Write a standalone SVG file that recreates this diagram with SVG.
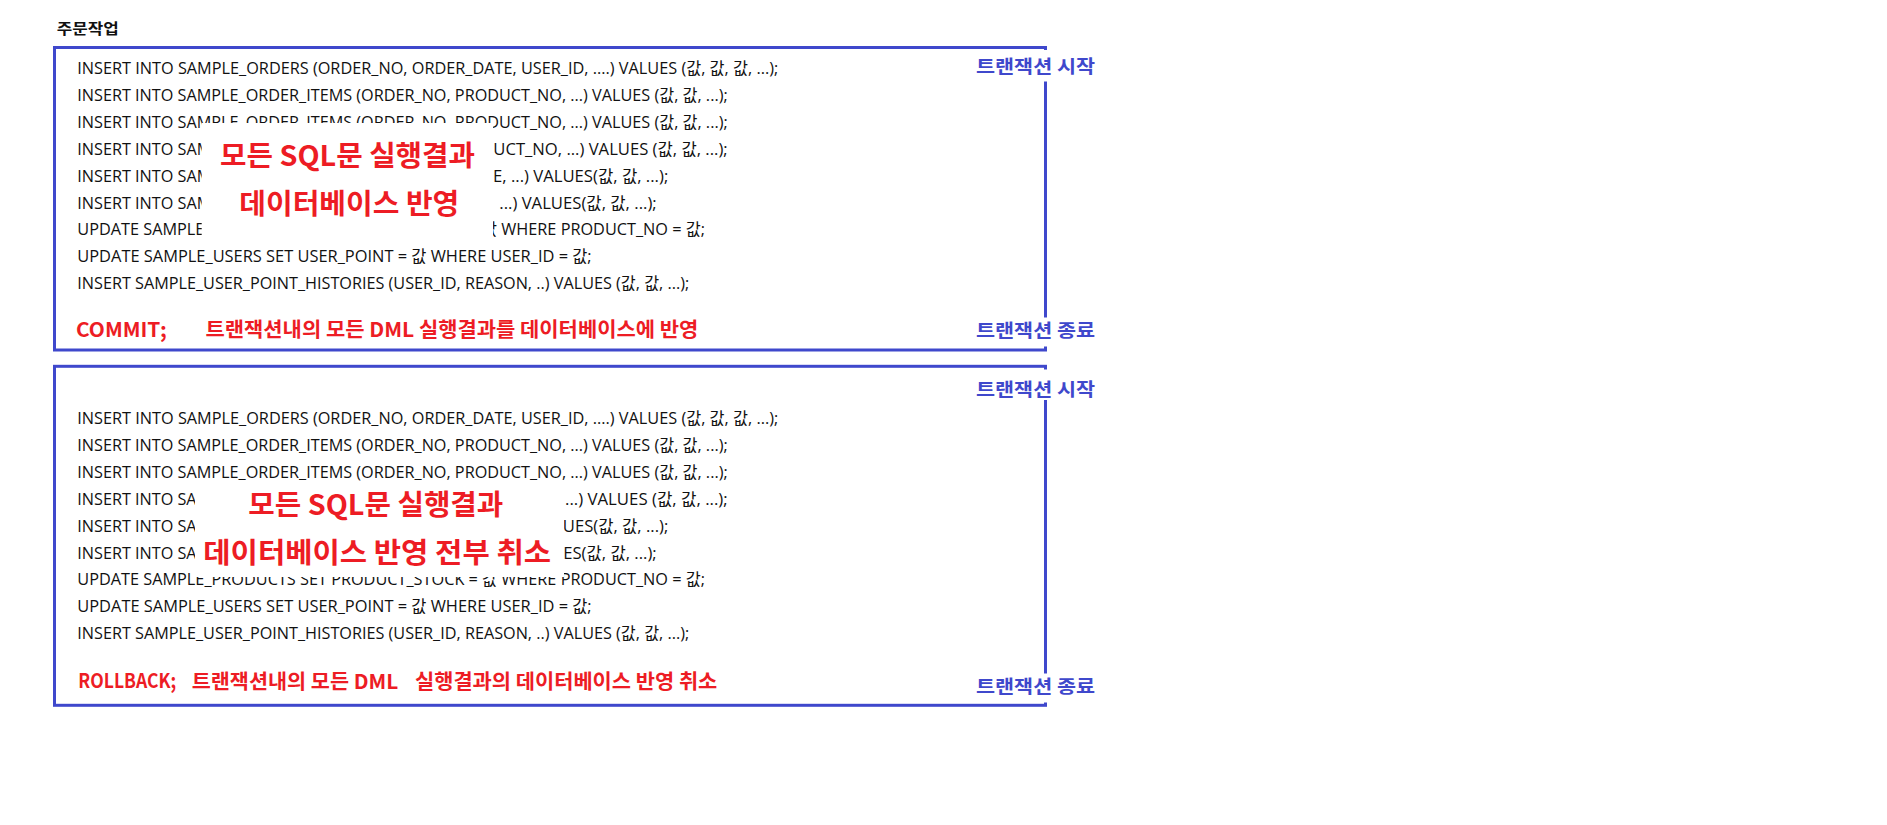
<svg xmlns="http://www.w3.org/2000/svg" width="1887" height="825" viewBox="0 0 1887 825">
<style>
.title{font-family:"Noto Sans CJK KR","Noto Sans",sans-serif;font-size:15px;font-weight:bold;fill:#111}
.sql{font-family:"Open Sans","Noto Sans CJK KR",sans-serif;font-size:16px;fill:#111}
.frame{fill:none;stroke:#3F48CC;stroke-width:3}
.bg{fill:#fff}
.lbl{font-family:"Noto Sans CJK KR",sans-serif;font-size:18px;font-weight:bold;fill:#3F48CC}
.big{font-family:"Noto Sans CJK KR",sans-serif;font-size:28px;font-weight:bold;fill:#ED1C24}
.red{font-family:"Noto Sans CJK KR",sans-serif;font-size:20px;font-weight:bold;fill:#ED1C24}
</style>
<rect width="1887" height="825" fill="#fff"/>
<g id="title"><text class="title" x="56.7" y="34" textLength="62" lengthAdjust="spacingAndGlyphs">주문작업</text></g>

<g id="commit-transaction">
<rect class="frame" x="54.5" y="47.5" width="991" height="302.5"/>
<g class="sql">
<text x="77.3" y="74" textLength="701" lengthAdjust="spacingAndGlyphs">INSERT INTO SAMPLE_ORDERS (ORDER_NO, ORDER_DATE, USER_ID, ....) VALUES (값, 값, 값, ...);</text>
<text x="77.3" y="100.9" textLength="650.4" lengthAdjust="spacingAndGlyphs">INSERT INTO SAMPLE_ORDER_ITEMS (ORDER_NO, PRODUCT_NO, ...) VALUES (값, 값, ...);</text>
<text x="77.3" y="127.8" textLength="650.4" lengthAdjust="spacingAndGlyphs">INSERT INTO SAMPLE_ORDER_ITEMS (ORDER_NO, PRODUCT_NO, ...) VALUES (값, 값, ...);</text>
<text x="77.3" y="154.7" textLength="134" lengthAdjust="spacingAndGlyphs">INSERT INTO SAM</text>
<text x="493.3" y="154.7" textLength="234.4" lengthAdjust="spacingAndGlyphs">UCT_NO, ...) VALUES (값, 값, ...);</text>
<text x="77.3" y="181.6" textLength="134" lengthAdjust="spacingAndGlyphs">INSERT INTO SAM</text>
<text x="493" y="181.6" textLength="175.3" lengthAdjust="spacingAndGlyphs">E, ...) VALUES(값, 값, ...);</text>
<text x="77.3" y="208.5" textLength="134" lengthAdjust="spacingAndGlyphs">INSERT INTO SAM</text>
<text x="499.3" y="208.5" textLength="157.4" lengthAdjust="spacingAndGlyphs">...) VALUES(값, 값, ...);</text>
<text x="77.3" y="235.4" textLength="627.7" lengthAdjust="spacingAndGlyphs">UPDATE SAMPLE_PRODUCTS SET PRODUCT_STOCK = 값 WHERE PRODUCT_NO = 값;</text>
<text x="77.3" y="262.3" textLength="514.4" lengthAdjust="spacingAndGlyphs">UPDATE SAMPLE_USERS SET USER_POINT = 값 WHERE USER_ID = 값;</text>
<text x="77.3" y="289.2" textLength="612" lengthAdjust="spacingAndGlyphs">INSERT SAMPLE_USER_POINT_HISTORIES (USER_ID, REASON, ..) VALUES (값, 값, ...);</text>
</g>
<rect class="bg" x="201.7" y="123" width="291.3" height="120"/>
<text class="big" x="220" y="166" textLength="255" lengthAdjust="spacingAndGlyphs">모든 SQL문 실행결과</text>
<text class="big" x="239.3" y="214" textLength="220" lengthAdjust="spacingAndGlyphs">데이터베이스 반영</text>
<text class="red" x="76" y="336.7" textLength="90.7" lengthAdjust="spacingAndGlyphs">COMMIT;</text>
<text class="red" x="205.5" y="337" textLength="492.8" lengthAdjust="spacingAndGlyphs">트랜잭션내의 모든 DML 실행결과를 데이터베이스에 반영</text>
<rect class="bg" x="972" y="50" width="128" height="31.5"/>
<text class="lbl" x="976" y="73" textLength="119" lengthAdjust="spacingAndGlyphs">트랜잭션 시작</text>
<rect class="bg" x="972" y="317.5" width="128" height="29"/>
<text class="lbl" x="976" y="337" textLength="119" lengthAdjust="spacingAndGlyphs">트랜잭션 종료</text>
</g>

<g id="rollback-transaction">
<rect class="frame" x="54.5" y="366.3" width="991" height="339"/>
<g class="sql">
<text x="77.3" y="424" textLength="701" lengthAdjust="spacingAndGlyphs">INSERT INTO SAMPLE_ORDERS (ORDER_NO, ORDER_DATE, USER_ID, ....) VALUES (값, 값, 값, ...);</text>
<text x="77.3" y="450.9" textLength="650.4" lengthAdjust="spacingAndGlyphs">INSERT INTO SAMPLE_ORDER_ITEMS (ORDER_NO, PRODUCT_NO, ...) VALUES (값, 값, ...);</text>
<text x="77.3" y="477.8" textLength="650.4" lengthAdjust="spacingAndGlyphs">INSERT INTO SAMPLE_ORDER_ITEMS (ORDER_NO, PRODUCT_NO, ...) VALUES (값, 값, ...);</text>
<text x="77.3" y="504.7" textLength="119.3" lengthAdjust="spacingAndGlyphs">INSERT INTO SA</text>
<text x="565" y="504.7" textLength="162.7" lengthAdjust="spacingAndGlyphs">...) VALUES (값, 값, ...);</text>
<text x="77.3" y="531.6" textLength="119.3" lengthAdjust="spacingAndGlyphs">INSERT INTO SA</text>
<text x="562.8" y="531.6" textLength="105.5" lengthAdjust="spacingAndGlyphs">UES(값, 값, ...);</text>
<text x="77.3" y="558.5" textLength="119.3" lengthAdjust="spacingAndGlyphs">INSERT INTO SA</text>
<text x="563.2" y="558.5" textLength="93.5" lengthAdjust="spacingAndGlyphs">ES(값, 값, ...);</text>
<text x="77.3" y="585.4" textLength="627.7" lengthAdjust="spacingAndGlyphs">UPDATE SAMPLE_PRODUCTS SET PRODUCT_STOCK = 값 WHERE PRODUCT_NO = 값;</text>
<text x="77.3" y="612.3" textLength="514.4" lengthAdjust="spacingAndGlyphs">UPDATE SAMPLE_USERS SET USER_POINT = 값 WHERE USER_ID = 값;</text>
<text x="77.3" y="639.2" textLength="612" lengthAdjust="spacingAndGlyphs">INSERT SAMPLE_USER_POINT_HISTORIES (USER_ID, REASON, ..) VALUES (값, 값, ...);</text>
</g>
<rect class="bg" x="195" y="487" width="369" height="90"/>
<text class="big" x="248.3" y="514.5" textLength="255" lengthAdjust="spacingAndGlyphs">모든 SQL문 실행결과</text>
<text class="big" x="203.3" y="563" textLength="347.7" lengthAdjust="spacingAndGlyphs">데이터베이스 반영 전부 취소</text>
<text class="red" x="78.3" y="688.3" textLength="98" lengthAdjust="spacingAndGlyphs">ROLLBACK;</text>
<text class="red" x="191.7" y="688.5" textLength="206.5" lengthAdjust="spacingAndGlyphs">트랜잭션내의 모든 DML</text>
<text class="red" x="415" y="688.5" textLength="302.3" lengthAdjust="spacingAndGlyphs">실행결과의 데이터베이스 반영 취소</text>
<rect class="bg" x="972" y="369.5" width="128" height="30.5"/>
<text class="lbl" x="976" y="395.5" textLength="119" lengthAdjust="spacingAndGlyphs">트랜잭션 시작</text>
<rect class="bg" x="972" y="673.5" width="128" height="29"/>
<text class="lbl" x="976" y="692.5" textLength="119" lengthAdjust="spacingAndGlyphs">트랜잭션 종료</text>
</g>
<g id="connectors"/>
</svg>
